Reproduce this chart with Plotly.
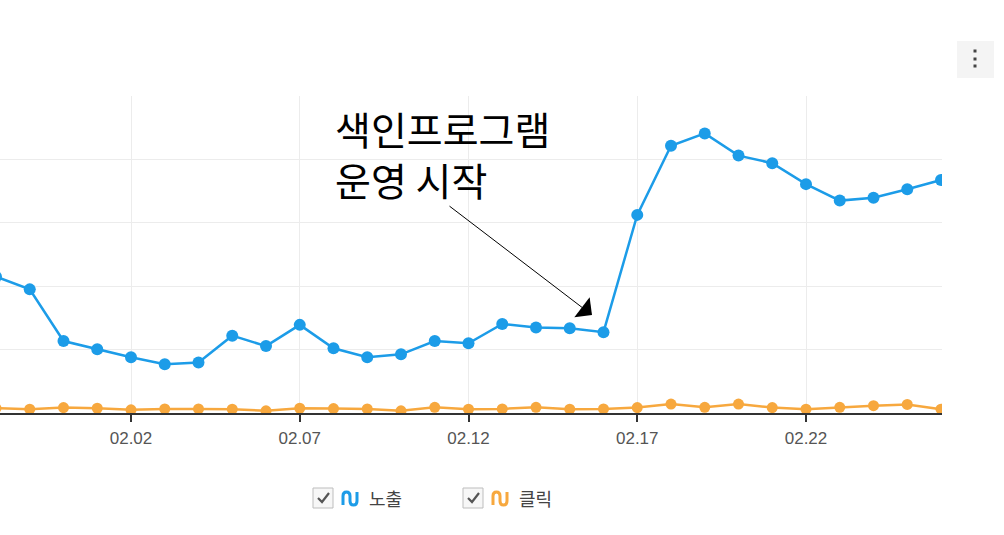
import plotly.graph_objects as go

# ---- data ----
dates = ["01.29", "01.30", "01.31", "02.01", "02.02", "02.03", "02.04", "02.05",
         "02.06", "02.07", "02.08", "02.09", "02.10", "02.11", "02.12", "02.13",
         "02.14", "02.15", "02.16", "02.17", "02.18", "02.19", "02.20", "02.21",
         "02.22", "02.23", "02.24", "02.25", "02.26"]
impressions = [430, 390, 227, 201, 176, 154, 159, 244, 211, 278, 204, 176, 185, 227,
               220, 281, 270, 267, 255, 625, 843, 882, 812, 788, 722, 670, 679, 706, 735]
clicks = [15, 12, 17, 15, 10, 13, 13, 12, 7, 15, 14, 13, 7, 18, 12, 13, 18, 12, 13,
          17, 28, 18, 28, 17, 12, 18, 23, 27, 12]
tick_labels = ["02.02", "02.07", "02.12", "02.17", "02.22"]
series_names = ["노출", "클릭"]
annotation_text = "색인프로그램<br>운영 시작"

BLUE = "#1c9ce8"
ORANGE = "#f7a83e"

W, H = 1004, 535
L, R, T, B = 0, 62, 96, 122
PW = W - L - R
PH = H - T - B


def px(x):
    return (x - L) / PW


def py(y):
    return (H - B - y) / PH


def path(points, cmds):
    out = []
    for c, pts in zip(cmds, points):
        s = c
        for (x, y) in pts:
            s += f" {px(x):.5f},{py(y):.5f}"
        out.append(s)
    return " ".join(out)


fig = go.Figure()
fig.add_trace(go.Scatter(x=dates, y=impressions, mode="lines+markers", name=series_names[0],
                         line=dict(color=BLUE, width=2.5),
                         marker=dict(color=BLUE, size=12), showlegend=False))
fig.add_trace(go.Scatter(x=dates, y=clicks, mode="lines+markers", name=series_names[1],
                         line=dict(color=ORANGE, width=2.5),
                         marker=dict(color=ORANGE, size=11), showlegend=False))

shapes = []
annotations = []

# arrow annotation
annotations.append(dict(xref="paper", yref="paper", x=px(592), y=py(315),
                        ax=448 - 592, ay=205 - 315, axref="pixel", ayref="pixel",
                        text="", showarrow=True, arrowhead=1, arrowsize=4.2,
                        arrowwidth=1, arrowcolor="#000", standoff=0, startstandoff=0))
annotations.append(dict(xref="paper", yref="paper", x=px(333), y=py(98),
                        xanchor="left", yanchor="top", align="left",
                        text=annotation_text, showarrow=False,
                        font=dict(family="Noto Sans CJK KR", size=39, color="#000")))

# menu button
shapes.append(dict(type="rect", xref="paper", yref="paper", x0=px(957), x1=px(994),
                   y0=py(78), y1=py(41), fillcolor="#f4f4f4", line=dict(width=0), layer="below"))
for dy in (51, 59, 66):
    shapes.append(dict(type="rect", xref="paper", yref="paper", x0=px(973.5), x1=px(976.5),
                       y0=py(dy + 1.5), y1=py(dy - 1.5), fillcolor="#444", line=dict(width=0)))

# custom legend
legend_items = [(313, BLUE, 367, series_names[0]), (463, ORANGE, 517, series_names[1])]
for (cx, col, tx, label) in legend_items:
    shapes.append(dict(type="rect", xref="paper", yref="paper", x0=px(cx), x1=px(cx + 20),
                       y0=py(508), y1=py(488), fillcolor="#f7f7f7",
                       line=dict(color="#bdbdbd", width=1)))
    shapes.append(dict(type="path", xref="paper", yref="paper",
                       path=path([[(cx + 5, 498)], [(cx + 9, 502)], [(cx + 16, 493)]], ["M", "L", "L"]),
                       line=dict(color="#555", width=2.2)))
    sx = cx + 30
    p = (f"M {px(sx):.5f},{py(505):.5f} L {px(sx):.5f},{py(496):.5f} "
         f"Q {px(sx):.5f},{py(492):.5f} {px(sx + 3.5):.5f},{py(492):.5f} "
         f"Q {px(sx + 7):.5f},{py(492):.5f} {px(sx + 7):.5f},{py(496):.5f} "
         f"L {px(sx + 7):.5f},{py(501):.5f} "
         f"Q {px(sx + 7):.5f},{py(505):.5f} {px(sx + 10.5):.5f},{py(505):.5f} "
         f"Q {px(sx + 14):.5f},{py(505):.5f} {px(sx + 14):.5f},{py(501):.5f} "
         f"L {px(sx + 14):.5f},{py(492):.5f}")
    shapes.append(dict(type="path", xref="paper", yref="paper", path=p,
                       line=dict(color=col, width=3)))
    annotations.append(dict(xref="paper", yref="paper", x=px(tx), y=py(498),
                            xanchor="left", yanchor="middle", text=label, showarrow=False,
                            font=dict(family="Noto Sans CJK KR", size=18, color="#444")))

fig.update_layout(
    width=W, height=H,
    margin=dict(l=L, r=R, t=T, b=B),
    plot_bgcolor="white", paper_bgcolor="white",
    shapes=shapes, annotations=annotations,
    showlegend=False,
)
px_per_day = 33.75
fig.update_xaxes(type="category", range=[4 / px_per_day, 28 + 1 / px_per_day],
                 tickmode="array", tickvals=tick_labels, ticktext=tick_labels,
                 showgrid=True, gridcolor="#ececec", gridwidth=1,
                 showline=True, linecolor="#333", linewidth=2,
                 ticks="outside", ticklen=7, tickcolor="#333", tickwidth=1.5,
                 ticklabelstandoff=2,
                 tickfont=dict(family="Liberation Sans", size=17, color="#555"),
                 zeroline=False, fixedrange=True)
fig.update_yaxes(range=[0, 1000], dtick=200, showticklabels=False,
                 showgrid=True, gridcolor="#ececec", gridwidth=1,
                 zeroline=False, showline=False, fixedrange=True)

fig.write_html("out.html", config=dict(displayModeBar=False),
               post_script="document.body.style.margin='0';document.body.style.padding='0';")
